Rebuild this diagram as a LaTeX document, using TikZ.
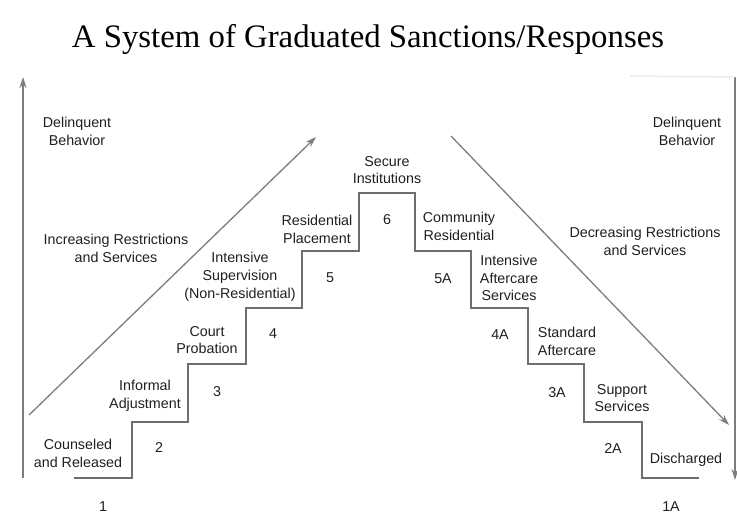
\documentclass[tikz,border=0pt]{standalone}
\usepackage{fontspec}
\setmainfont{Liberation Sans}
\newfontfamily\titlefont{Liberation Serif}
\usetikzlibrary{arrows.meta}
\definecolor{linegray}{RGB}{110,110,110}
\definecolor{arrgray}{RGB}{125,125,125}
\begin{document}
\begin{tikzpicture}[x=1pt,y=-1pt,
  lbl/.style={align=center,inner sep=0pt,font=\fontsize{14.3}{17.8}\selectfont,text=black!88},
  num/.style={inner sep=0pt,font=\fontsize{14.3}{17.8}\selectfont,text=black!88},
  stair/.style={draw=linegray,line width=1.3pt,line join=miter},
  axis/.style={draw=arrgray,line width=1.3pt,-{Stealth[length=11pt,width=7pt]}}]
\useasboundingbox (0,0) rectangle (737,525);
\node[font=\titlefont\fontsize{32.8}{36}\selectfont] (title) at (368,39) {A System of Graduated Sanctions/Responses};
% axes
\coordinate (la0) at (23,478);
\coordinate (la1) at (23,77);
\draw[axis] (la0) -- (la1);
\coordinate (ra0) at (735,77);
\coordinate (ra1) at (735,480);
\draw[axis] (ra0) -- (ra1);
\coordinate (sh0) at (630,76);
\draw[black!8,line width=1.5pt] (sh0) -- (ra0);
% diagonals
\coordinate (d1a) at (29,415);
\coordinate (d1b) at (316,137);
\draw[axis] (d1a) -- (d1b);
\coordinate (d2a) at (451,136);
\coordinate (d2b) at (729,425);
\draw[axis] (d2a) -- (d2b);
% stairs
\draw[stair] (74,478) -- (132,478) -- (132,422) -- (188,422) -- (188,364) -- (246,364) -- (246,308)
  -- (302,308) -- (302,251) -- (359,251) -- (359,193) -- (415,193) -- (415,251) -- (471,251)
  -- (471,308) -- (528,308) -- (528,364) -- (584,364) -- (584,422) -- (642,422) -- (642,478) -- (699,478);
% labels
\node[lbl] (dbl) at (77,131) {Delinquent\\Behavior};
\node[lbl] (irs) at (116,248) {Increasing Restrictions\\and Services};
\node[lbl] (dbr) at (687,131) {Delinquent\\Behavior};
\node[lbl] (drs) at (645,241) {Decreasing Restrictions\\and Services};
\node[lbl] (s1) at (78,453) {Counseled\\and Released};
\node[lbl] (s2) at (145,396) {Informal\\Adjustment};
\node[lbl] (s3) at (207,340) {Court\\Probation};
\node[lbl] (s4) at (240,277) {Intensive\\Supervision\\(Non-Residential)};
\node[lbl] (s5) at (317,229) {Residential\\Placement};
\node[lbl] (s6) at (387,170) {Secure\\Institutions};
\node[lbl] (s5a) at (459,226) {Community\\Residential};
\node[lbl] (s4a) at (509,278) {Intensive\\Aftercare\\Services};
\node[lbl] (s3a) at (567,341) {Standard\\Aftercare};
\node[lbl] (s2a) at (622,398) {Support\\Services};
\node[lbl] (s1a) at (686,460) {Discharged};
\node[num] (n1) at (103,507) {1};
\node[num] (n2) at (159,448) {2};
\node[num] (n3) at (217,392) {3};
\node[num] (n4) at (273,334) {4};
\node[num] (n5) at (330,278) {5};
\node[num] (n6) at (387,220) {6};
\node[num] (n5a) at (443,279) {5A};
\node[num] (n4a) at (500,335) {4A};
\node[num] (n3a) at (557,393) {3A};
\node[num] (n2a) at (613,449) {2A};
\node[num] (n1a) at (671,507) {1A};
\end{tikzpicture}
\end{document}
